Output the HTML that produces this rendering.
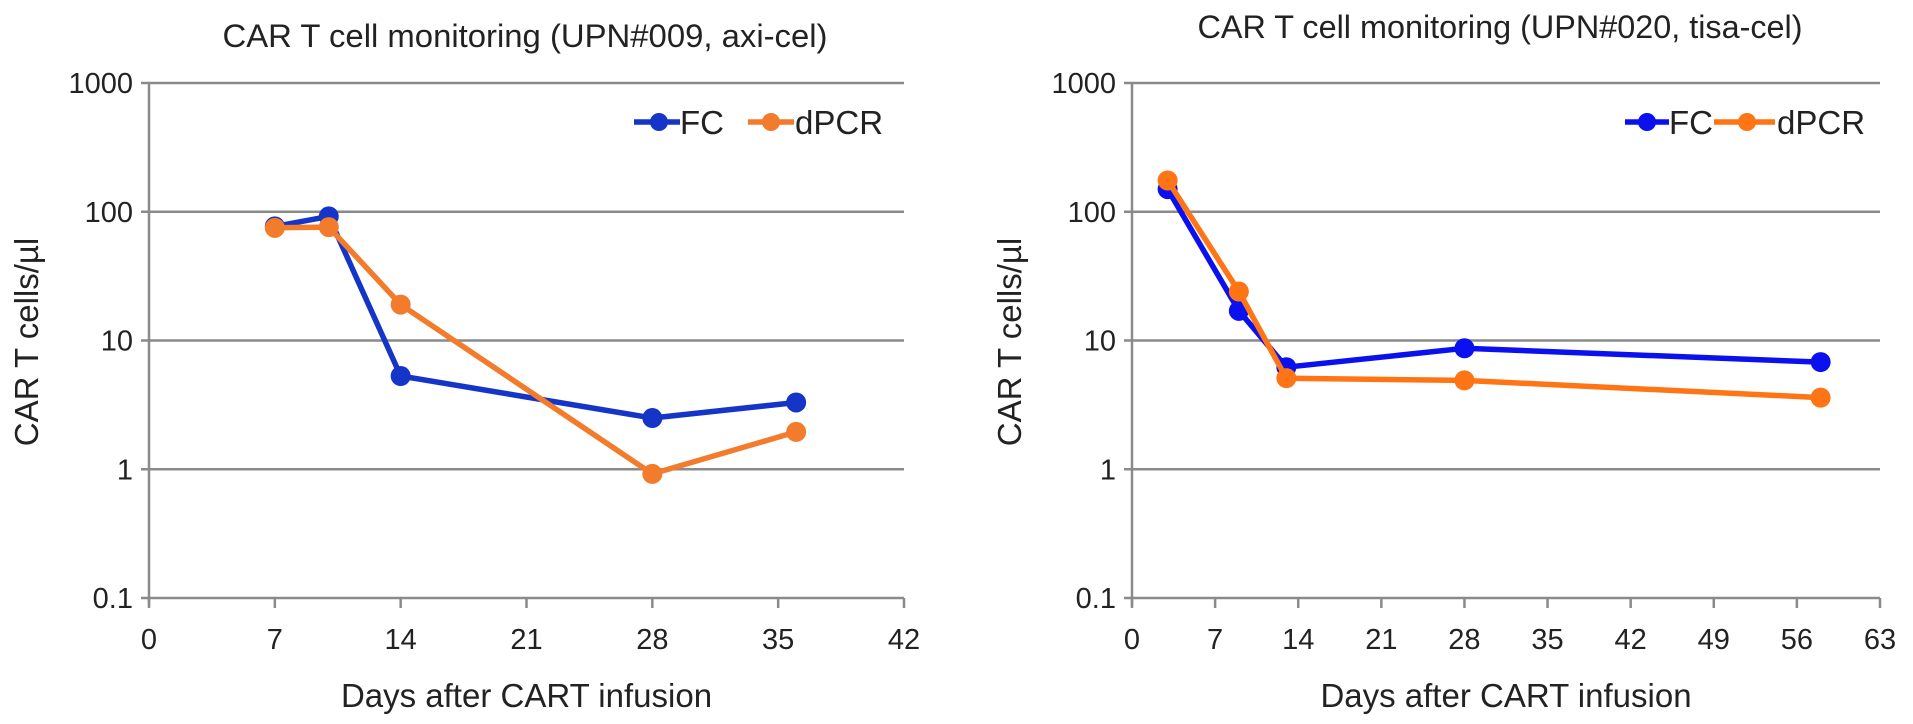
<!DOCTYPE html>
<html><head><meta charset="utf-8"><style>
html,body{margin:0;padding:0;background:#fff;}
svg{display:block;font-family:"Liberation Sans",Arial,sans-serif;}
</style></head><body>
<svg id="fig" width="1913" height="724" viewBox="0 0 1913 724" xmlns="http://www.w3.org/2000/svg"></svg>
<script>
const yTicks = [0.1, 1, 10, 100, 1000];
const yTickLabels = ["0.1", "1", "10", "100", "1000"];
const leftXTicks = [0, 7, 14, 21, 28, 35, 42];
const rightXTicks = [0, 7, 14, 21, 28, 35, 42, 49, 56, 63];
const leftDays = [7, 10, 14, 28, 36];
const leftFC = [77, 92, 5.3, 2.5, 3.3];
const leftDPCR = [75, 76, 19, 0.92, 1.95];
const rightDays = [3, 9, 13, 28, 58];
const rightFC = [150, 17, 6.2, 8.7, 6.8];
const rightDPCR = [175, 24, 5.1, 4.9, 3.6];

const NS = "http://www.w3.org/2000/svg";
const svg = document.getElementById("fig");
function mk(tag, attrs, parent, text) {
  const e = document.createElementNS(NS, tag);
  for (const k in attrs) e.setAttribute(k, attrs[k]);
  if (text !== undefined) e.textContent = text;
  (parent || svg).appendChild(e);
  return e;
}
const Y0 = 598, Y1 = 83;
function yScale(v) { return Y0 - (Math.log10(v) + 1) / 4 * (Y0 - Y1); }

function chart(cfg) {
  const g = mk("g", {});
  
  
  const xs = v => cfg.x0 + (v - cfg.xmin) / (cfg.xmax - cfg.xmin) * (cfg.x1 - cfg.x0);
  yTicks.forEach((t, i) => {
    const y = yScale(t);
    const l = mk("line", {x1: cfg.x0 - 8, x2: cfg.x1, y1: y, y2: y, stroke: "#8a8a8a", "stroke-width": 2.5}, g);
    
    
    const tx = mk("text", {x: cfg.x0 - 16, y: y + 10, "text-anchor": "end", "font-size": 29, fill: "#222"}, g, yTickLabels[i]);
    
    
  });
  const ax = mk("line", {x1: cfg.x0, x2: cfg.x0, y1: Y1, y2: Y0 + 8, stroke: "#8a8a8a", "stroke-width": 2.5}, g);
  
  
  cfg.xticks.forEach(t => {
    const x = xs(t);
    const tk = mk("line", {x1: x, x2: x, y1: Y0, y2: Y0 + 10, stroke: "#8a8a8a", "stroke-width": 2.5}, g);
    
    
    const tx = mk("text", {x: x, y: 649, "text-anchor": "middle", "font-size": 29, fill: "#222"}, g, String(t));
    
    
  });
  const xt = mk("text", {x: (cfg.x0 + cfg.x1) / 2, y: 707, "text-anchor": "middle", "font-size": 33, fill: "#222"}, g, "Days after CART infusion");
  
  
  const yt = mk("text", {x: 0, y: 0, "text-anchor": "middle", "font-size": 33, fill: "#222", transform: `translate(${cfg.ylx},342) rotate(-90)`}, g, "CAR T cells/µl");
  
  
  const ti = mk("text", {x: cfg.tx, y: cfg.ty, "text-anchor": "middle", "font-size": 32, fill: "#222", textLength: 605, lengthAdjust: "spacingAndGlyphs"}, g, cfg.title);
  
  
  [[cfg.fc, cfg.blue, 'fc'], [cfg.dp, cfg.orange, 'dpcr']].forEach(([vals, col, nm]) => {
    const pts = cfg.days.map((d, i) => xs(d).toFixed(1) + "," + yScale(vals[i]).toFixed(1)).join(" ");
    const pl = mk("polyline", {points: pts, fill: "none", stroke: col, "stroke-width": 5.5, "stroke-linejoin": "round"}, g);
    
    
    cfg.days.forEach((d, i) => {
      const c = mk("circle", {cx: xs(d), cy: yScale(vals[i]), r: 10, fill: col}, g);
      
      
    });
  });
  const lg = mk("g", {}, g);
  
  
  const L = cfg.leg;
  const a = mk("line", {x1: L.b1, x2: L.b2, y1: 122, y2: 122, stroke: cfg.blue, "stroke-width": 5.5}, lg);
  
  
  const am = mk("circle", {cx: L.bm, cy: 122, r: 9, fill: cfg.blue}, lg);
  
  
  const at = mk("text", {x: L.bt, y: 134, "font-size": 33, fill: "#222"}, lg, "FC");
  
  
  const b = mk("line", {x1: L.o1, x2: L.o2, y1: 122, y2: 122, stroke: cfg.orange, "stroke-width": 5.5}, lg);
  
  
  const bm = mk("circle", {cx: L.om, cy: 122, r: 9, fill: cfg.orange}, lg);
  
  
  const bt = mk("text", {x: L.ot, y: 134, "font-size": 33, fill: "#222"}, lg, "dPCR");
  
  
}

chart({name: "left-chart", x0: 149, x1: 904, xmin: 0, xmax: 42, xticks: leftXTicks,
  days: leftDays, fc: leftFC, dp: leftDPCR, blue: "#1535c8", orange: "#f27b2c",
  title: "CAR T cell monitoring (UPN#009, axi-cel)", tx: 525, ty: 47, ylx: 38,
  leg: {b1: 634, b2: 680, bm: 659, bt: 680, o1: 748, o2: 794, om: 771, ot: 795}});
chart({name: "right-chart", x0: 1132, x1: 1880, xmin: 0, xmax: 63, xticks: rightXTicks,
  days: rightDays, fc: rightFC, dp: rightDPCR, blue: "#0a10ee", orange: "#ff7414",
  title: "CAR T cell monitoring (UPN#020, tisa-cel)", tx: 1500, ty: 38, ylx: 1021,
  leg: {b1: 1625, b2: 1669, bm: 1647, bt: 1669, o1: 1714, o2: 1775, om: 1747, ot: 1777}});
</script>
</body></html>
